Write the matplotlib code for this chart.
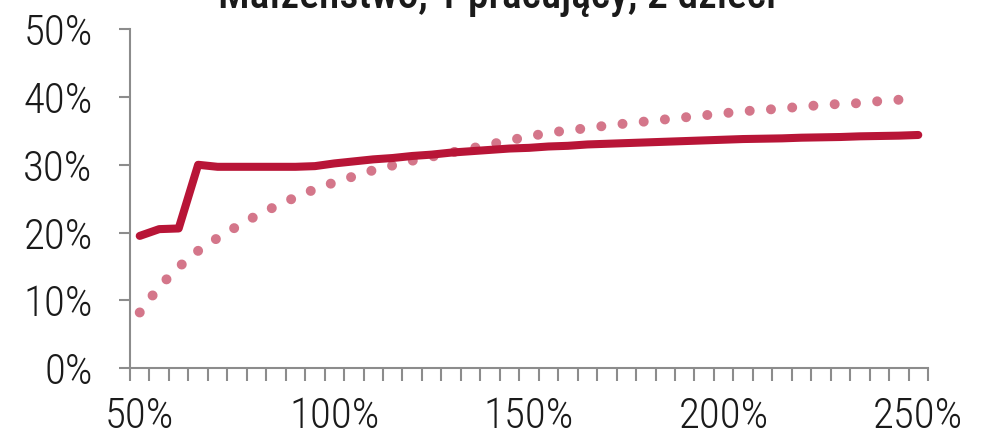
import matplotlib
matplotlib.use("Agg")
import matplotlib.pyplot as plt
import matplotlib.ticker as ticker
import numpy as np

# share of income, categories 50%..250% step 5%
income_pct = list(range(50, 255, 5))
solid_vals = [19.5, 20.5, 20.6, 30.0, 29.7, 29.7, 29.7, 29.7, 29.7, 29.8,
              30.2, 30.5, 30.8, 31.0, 31.3, 31.5, 31.8, 32.0, 32.2, 32.4,
              32.5, 32.7, 32.8, 33.0, 33.1, 33.2, 33.3, 33.4, 33.5, 33.6,
              33.7, 33.8, 33.85, 33.9, 34.0, 34.05, 34.1, 34.2, 34.25, 34.3, 34.4]
dotted_vals = [8.2, 12.0, 14.9, 17.3, 19.2, 20.9, 22.5, 23.9, 25.2, 26.4,
               27.4, 28.3, 29.2, 29.9, 30.6, 31.2, 31.8, 32.4, 33.0, 33.6,
               34.2, 34.7, 35.1, 35.4, 35.8, 36.1, 36.4, 36.7, 37.0, 37.3,
               37.6, 37.9, 38.1, 38.3, 38.6, 38.8, 39.0, 39.1, 39.4, 39.6, 39.8]
y_ticks = [0, 10, 20, 30, 40, 50]
x_labels = ['50%', '100%', '150%', '200%', '250%']
title = 'Małżeństwo, 1 pracujący, 2 dzieci'

plt.rcParams['font.family'] = ['Roboto Condensed', 'DejaVu Sans']

fig = plt.figure(figsize=(9.81, 4.38), dpi=100)
ax = fig.add_axes([130 / 981, 70 / 438, 798 / 981, 338.7 / 438])

x = np.arange(len(income_pct))
ax.plot(x, dotted_vals, color='#D4768A', linewidth=7.2, linestyle=(0, (0.001, 2.13)),
        dash_capstyle='round', zorder=2)
ax.plot(x, solid_vals, color='#B81537', linewidth=5.8, solid_capstyle='round',
        solid_joinstyle='round', zorder=3)

ax.set_xlim(-0.5, len(income_pct) - 0.5)
ax.set_ylim(0, 50)
ax.set_xticks([0, 10, 20, 30, 40])
ax.set_xticklabels(x_labels)
ax.xaxis.set_minor_locator(ticker.FixedLocator(np.arange(-0.5, len(income_pct), 1)))
ax.set_yticks(y_ticks)
ax.set_yticklabels([f'{v}%' for v in y_ticks])
for lab in ax.get_xticklabels() + ax.get_yticklabels():
    lab.set_fontweight('light')

for s in ['top', 'right']:
    ax.spines[s].set_visible(False)
for s in ['left', 'bottom']:
    ax.spines[s].set_color('#8C8C8C')
    ax.spines[s].set_linewidth(1.5)
ax.tick_params(axis='x', which='major', length=0, pad=20, labelsize=31, labelcolor='#1a1a1a')
ax.tick_params(axis='x', which='minor', length=9, width=1.5, color='#8C8C8C')
ax.tick_params(axis='y', which='major', length=8, width=1.5, color='#8C8C8C',
               pad=19, labelsize=31, labelcolor='#1a1a1a')

fig.text(497 / 981, 1 - 8 / 438, title, ha='center', va='baseline', fontsize=30,
         fontweight='medium', color='#1a1a1a')

fig.savefig('out.png', dpi=100)
